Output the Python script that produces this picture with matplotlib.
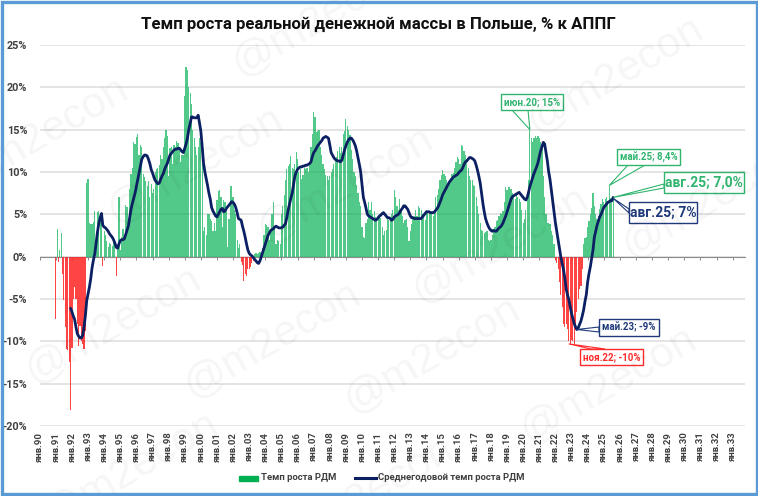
import numpy as np
import matplotlib
matplotlib.use("Agg")
from matplotlib import pyplot as plt
from matplotlib.patches import Polygon, Rectangle
from matplotlib.transforms import IdentityTransform

plt.rcParams['font.family'] = ['Roboto', 'DejaVu Sans']

title = "Темп роста реальной денежной массы в Польше, % к АППГ"
bar_name = "Темп роста РДМ"
line_name = "Среднегодовой темп роста РДМ"

# first year of the axis is 1990, no data until 1991
year_labels = ["янв.%02d" % (y % 100) for y in range(1990, 2034)]
bar_start = 12
line_start = 23

# monthly, one row per year, from jan.91
bar_values = [
    -7.4, 3.3, -0.6, 0.8, 2.8, -2.0, -5.1, -8.3, -10.9, -11.0, -12.4, -18.1,
    -10.8, -5.0, -3.6, -5.0, -8.0, -10.5, -8.2, -10.0, -10.3, -10.9, -8.8, 8.7,
    9.2, 4.0, 3.9, 3.9, 4.1, 5.4, 2.8, 5.3, 5.4, 5.2, 4.0, -1.1,
    3.0, 2.5, 1.8, 1.2, 1.6, 1.5, 1.3, 2.2, 2.0, -2.3, 1.0, 7.0,
    0.8, 2.3, 3.3, 2.0, 6.1, 5.9, 4.0, 8.0, 9.8, 10.5, 13.5, 13.3,
    14.1, 14.5, 12.0, 13.2, 13.0, 9.8, 9.4, 8.9, 8.3, 8.9, 7.1, 8.6,
    7.5, 8.0, 10.0, 10.3, 10.5, 10.8, 12.0, 11.5, 13.0, 14.0, 15.0, 14.2,
    9.5, 12.8, 13.0, 11.0, 13.2, 13.0, 13.7, 13.4, 12.5, 11.2, 12.0, 12.0,
    19.0, 22.4, 22.0, 20.0, 19.3, 18.0, 15.0, 14.0, 13.0, 12.0, 13.0, 14.0,
    13.5, 11.0, 3.0, 3.5, 2.5, 5.0, 5.0, 4.5, 4.2, 3.0, 4.0, 3.0,
    6.7, 7.7, 7.9, 7.0, 3.5, 6.7, 6.5, 5.5, 1.2, 4.5, 8.3, 8.3,
    7.0, 5.5, 5.0, 2.0, 1.0, 1.5, -0.6, -1.0, -2.9, -2.0, -2.3, -1.5,
    -1.5, -1.2, -0.8, -0.5, 0.3, 0.4, 0.3, 0.4, 0.5, 0.3, 1.0, 2.5,
    3.9, 3.7, 3.5, 2.0, 3.0, 5.0, 6.5, 3.5, 1.5, 2.0, 1.8, 1.5,
    5.0, 6.0, 7.3, 9.0, 10.4, 10.7, 11.0, 11.9, 10.5, 10.3, 11.0, 12.4,
    11.5, 10.0, 10.3, 9.2, 9.7, 10.5, 10.4, 10.5, 10.0, 11.0, 13.0, 14.5,
    17.1, 16.5, 14.7, 14.9, 15.0, 13.0, 12.0, 11.0, 10.4, 9.7, 9.5, 9.0,
    9.5, 10.0, 10.3, 11.0, 11.5, 11.8, 12.5, 13.0, 12.2, 13.0, 14.5, 14.8,
    16.3, 15.4, 15.0, 14.4, 12.6, 11.5, 10.0, 9.5, 8.5, 7.5, 6.5, 6.0,
    3.5, 2.3, 2.2, 4.0, 4.5, 6.5, 5.5, 6.5, 5.0, 5.4, 4.7, 4.3,
    4.5, 5.0, 4.6, 3.5, 2.5, 3.0, 3.2, 4.5, 4.3, 4.7, 5.0, 5.5,
    7.9, 7.0, 6.0, 5.5, 6.8, 5.5, 4.8, 4.0, 4.3, 4.5, 3.5, 1.8,
    3.0, 3.9, 4.5, 4.8, 5.5, 4.8, 6.0, 5.8, 5.5, 5.0, 4.7, 4.3,
    5.5, 5.3, 5.2, 5.0, 5.3, 4.8, 5.5, 7.0, 7.3, 8.0, 9.0, 9.6,
    10.2, 9.8, 9.5, 9.0, 8.5, 9.0, 9.3, 9.8, 9.9, 10.5, 11.2, 11.8,
    11.5, 11.0, 13.2, 13.1, 12.5, 12.0, 11.5, 10.5, 9.5, 9.0, 9.0, 8.5,
    8.3, 7.0, 6.0, 5.0, 4.0, 3.2, 3.0, 2.8, 2.9, 3.0, 2.0, 1.8,
    2.0, 2.5, 3.0, 3.5, 4.2, 4.3, 4.8, 5.2, 5.0, 5.4, 6.5, 8.2,
    7.9, 8.2, 8.2, 8.0, 7.5, 7.2, 6.8, 7.5, 7.0, 6.8, 6.5, 5.5,
    4.0, 4.5, 5.5, 7.0, 9.0, 15.0, 14.0, 13.5, 14.0, 14.2, 14.0, 14.3,
    14.0, 13.5, 13.0, 9.5, 7.0, 5.0, 4.0, 4.0, 3.8, 3.0, 2.5, 1.5,
    -0.4, -0.8, -1.5, -3.0, -4.5, -6.0, -7.9, -8.3, -8.0, -8.5, -10.0, -10.4,
    -9.8, -10.0, -10.3, -8.7, -6.5, -5.0, -3.8, -3.5, -1.5, 1.5, 2.2, 2.3,
    3.5, 4.2, 5.0, 5.8, 7.5, 6.0, 5.0, 4.4, 4.8, 5.6, 6.2, 6.8,
    6.5, 6.8, 7.0, 6.6, 8.4, 6.9, 6.8, 7.0,
]

# from dec.91
line_values = [
    -6.1,
    -6.5, -7.0, -7.4, -8.3, -9.1, -9.4, -9.6, -9.6, -9.3, -8.3, -7.0, -5.2,
    -4.4, -3.6, -2.6, -1.3, -0.4, 0.3, 1.6, 2.9, 3.9, 4.6, 5.1, 3.7,
    3.5, 3.4, 3.2, 3.0, 2.7, 2.5, 2.3, 2.0, 1.6, 1.1, 1.0, 1.5,
    1.9, 2.0, 2.0, 2.1, 2.6, 3.1, 3.6, 4.6, 5.6, 6.3, 6.9, 7.5,
    8.3, 9.1, 9.9, 10.7, 11.5, 11.8, 12.0, 12.0, 11.9, 11.5, 11.0, 10.3,
    9.9, 9.4, 9.0, 8.8, 8.6, 8.7, 9.1, 9.5, 9.8, 10.3, 10.7, 11.0,
    11.5, 12.0, 12.2, 12.4, 12.6, 12.7, 12.7, 12.8, 12.8, 12.6, 12.4, 12.3,
    12.8, 13.3, 14.0, 15.0, 15.7, 16.5, 16.5, 16.4, 16.4, 16.4, 16.7, 15.8,
    14.8, 13.0, 11.0, 10.0, 9.2, 8.4, 7.5, 6.8, 5.8, 5.4, 5.1, 4.8,
    4.7, 5.0, 5.3, 5.6, 5.7, 5.3, 5.4, 5.7, 5.9, 6.1, 6.3, 6.5,
    6.4, 6.2, 5.8, 5.2, 4.5, 4.4, 4.3, 3.6, 3.0, 2.3, 1.5, 0.8,
    0.4, 0.2, 0.1, -0.1, -0.3, -0.5, -0.7, -0.8, -0.5, 0.0, 0.5, 1.0,
    1.5, 2.0, 2.5, 2.8, 3.1, 3.2, 3.3, 3.5, 3.6, 3.5, 3.4, 3.4,
    3.4, 3.5, 3.7, 3.9, 4.6, 5.5, 6.2, 6.9, 7.5, 8.5, 9.5, 10.0,
    10.3, 10.5, 10.6, 10.6, 10.7, 10.7, 10.8, 10.8, 10.9, 11.0, 11.2, 11.8,
    12.3, 12.5, 12.8, 13.1, 13.3, 13.5, 13.7, 14.0, 14.1, 14.2, 14.1, 14.0,
    13.2, 12.3, 12.0, 11.7, 11.5, 11.4, 11.3, 11.3, 11.2, 11.4, 12.0, 12.6,
    13.1, 13.5, 13.8, 14.0, 14.0, 13.8, 13.5, 13.1, 12.5, 11.7, 10.9, 10.0,
    8.5, 7.0, 6.4, 5.7, 5.0, 4.8, 4.7, 4.6, 4.5, 4.4, 4.3, 4.4,
    4.6, 4.8, 4.9, 5.1, 5.2, 5.0, 4.8, 4.6, 4.6, 4.5, 4.3, 4.4,
    4.7, 4.8, 4.9, 5.0, 5.2, 5.5, 5.7, 6.0, 6.0, 5.8, 5.6, 5.2,
    4.8, 4.6, 4.6, 4.5, 4.5, 4.5, 4.5, 4.5, 4.5, 4.7, 4.9, 5.1,
    5.3, 5.3, 5.3, 5.2, 5.2, 5.2, 5.3, 5.5, 5.7, 6.0, 6.4, 6.8,
    7.3, 7.6, 7.9, 8.2, 8.5, 8.8, 9.0, 9.2, 9.4, 9.5, 9.6, 9.7,
    9.9, 10.1, 10.2, 10.5, 10.9, 11.2, 11.3, 11.5, 11.7, 11.7, 11.6, 11.5,
    11.3, 10.8, 10.2, 9.5, 8.7, 7.5, 6.3, 5.3, 4.5, 4.0, 3.6, 3.3,
    3.1, 3.0, 3.1, 3.0, 3.0, 3.2, 3.4, 3.5, 3.7, 4.0, 4.4, 4.8,
    5.3, 5.8, 6.3, 6.8, 7.1, 7.2, 7.3, 7.4, 7.5, 7.6, 7.4, 7.2,
    7.0, 6.8, 6.7, 7.0, 7.6, 8.3, 8.8, 9.3, 9.8, 10.2, 10.6, 11.1,
    11.8, 12.5, 13.0, 13.5, 13.3, 12.3, 11.3, 10.0, 9.1, 7.8, 6.5, 5.2,
    4.0, 3.0, 2.0, 1.0, 0.0, -0.8, -1.5, -2.5, -3.8, -4.5, -5.1, -5.9,
    -6.7, -7.3, -7.9, -8.3, -8.6, -8.4, -8.0, -7.6, -7.0, -6.3, -5.3, -4.5,
    -3.0, -2.0, -1.2, -0.2, 0.8, 2.3, 3.0, 3.7, 4.2, 4.7, 5.0, 5.4,
    5.8, 6.0, 6.2, 6.4, 6.5, 6.6, 6.6, 7.0,
]

GREEN = "#00b050"
RED = "#ff2a2a"
NAVY = "#0b1f63"

W, H = 758, 496
fig = plt.figure(figsize=(W / 100, H / 100), dpi=100)
ax = fig.add_axes([39.7 / W, 1 - 426 / H, (744.5 - 39.7) / W, (426 - 45) / H])

x_bar = np.arange(bar_start, bar_start + len(bar_values))
y_bar = np.array(bar_values)
ax.bar(x_bar[y_bar >= 0], y_bar[y_bar >= 0], width=0.88, color=GREEN, alpha=0.68, linewidth=0, zorder=2, label=bar_name)
ax.bar(x_bar[y_bar < 0], y_bar[y_bar < 0], width=0.88, color=RED, alpha=0.88, linewidth=0, zorder=2)

x_line = np.arange(line_start, line_start + len(line_values))
ax.plot(x_line, line_values, color=NAVY, linewidth=2.0, zorder=3, label=line_name, solid_capstyle='round', solid_joinstyle='round')

# moving the spine resets the ticks, so this comes first
for s in ['top', 'right', 'left']:
    ax.spines[s].set_visible(False)
ax.spines['bottom'].set_position(('data', 0))
ax.spines['bottom'].set_color("#8c8c8c")
ax.spines['bottom'].set_zorder(1)

ax.set_xlim(0, 524.8)
ax.set_ylim(-20, 25)
ax.set_yticks(np.arange(-20, 26, 5))
ax.set_yticklabels(["%d%%" % v for v in np.arange(-20, 26, 5)], fontsize=7.8, fontweight='bold', color="#404040")
ax.set_xticks(np.arange(0, len(year_labels)) * 12)
ax.set_xticklabels(year_labels, rotation=90, fontsize=6.8, fontweight='bold', color="#404040")
ax.grid(axis='y', color="#dddddd", linewidth=1.1, zorder=0)
ax.set_axisbelow(True)
ax.tick_params(axis='y', length=0, pad=9)
ax.tick_params(axis='x', length=2, width=0.7, color="#8c8c8c", pad=124)

fig.text(378 / W, 1 - 24 / H, title, ha='center', va='center', fontsize=12.1, fontweight='bold', color="#111111")

fig.canvas.draw()
px = IdentityTransform()

# legend drawn by hand in pixels so the keys sit where they do in the picture
fig.add_artist(Rectangle((239, H - 481), 19, 5, color=GREEN, transform=px))
fig.text(261 / W, 1 - 478 / H, bar_name, fontsize=6.8, fontweight='bold', color="#404040", va='center')
fig.add_artist(plt.Line2D([355, 376], [H - 478, H - 478], color=NAVY, linewidth=2.2, transform=px))
fig.text(378 / W, 1 - 478 / H, line_name, fontsize=6.8, fontweight='bold', color="#404040", va='center')


def callout(i, val, text, color, box, base, size):
    tip = ax.transData.transform((i, val))
    pts = [tip, (base[0], H - base[1]), (base[2], H - base[3])]
    fig.add_artist(Polygon(pts, closed=True, facecolor="white", edgecolor=color, linewidth=0.8, transform=px, zorder=5))
    x0, y0, x1, y1 = box
    fig.add_artist(Rectangle((x0, H - y1), x1 - x0, y1 - y0, facecolor="white", edgecolor=color, linewidth=1.0, transform=px, zorder=6))
    fig.text((x0 + x1) / 2 / W, 1 - (y0 + y1) / 2 / H, text, ha='center', va='center', fontsize=size, fontweight='bold', color=color, zorder=7)


C_GREEN = "#2fb56e"
C_NAVY = "#1f3a7a"
callout(365, 15.0, "июн.20; 15%", C_GREEN, (501, 94, 563, 110), (512, 110, 528, 110), 7.0)
callout(424, 8.4, "май.25; 8,4%", C_GREEN, (617, 149, 680, 165), (628, 165, 645, 165), 7.0)
callout(427, 7.0, "авг.25; 7,0%", C_GREEN, (664, 172, 744, 193), (664, 184, 664, 188), 10)
callout(427, 6.9, "авг.25; 7%", C_NAVY, (629, 202, 697, 223), (629, 209, 629, 213), 10)
callout(400, -8.6, "май.23; -9%", C_NAVY, (599, 319, 659, 336), (599, 327, 599, 332), 7.0)
callout(394, -10.3, "ноя.22; -10%", RED, (580, 349, 643, 365), (591, 349, 605, 349), 7.0)

# watermark, centres in pixels
marks = [(40, 135), (195, 165), (345, 185), (320, 18), (615, 75), (500, 245), (710, 200),
         (113, 325), (272, 340), (432, 355), (608, 385), (130, 470), (365, 495)]
for mx, my in marks:
    fig.text(mx / W, 1 - my / H, "@m2econ", rotation=30, rotation_mode='anchor', ha='center', va='center',
             fontsize=31, color="black", alpha=0.04, zorder=8, family='Liberation Sans')

# blue frame
fig.add_artist(Rectangle((1.5, 2), W - 3, H - 4, fill=False, edgecolor="#5b9bd5", linewidth=2.4, transform=px, zorder=9))

fig.savefig("out.png", dpi=100)
